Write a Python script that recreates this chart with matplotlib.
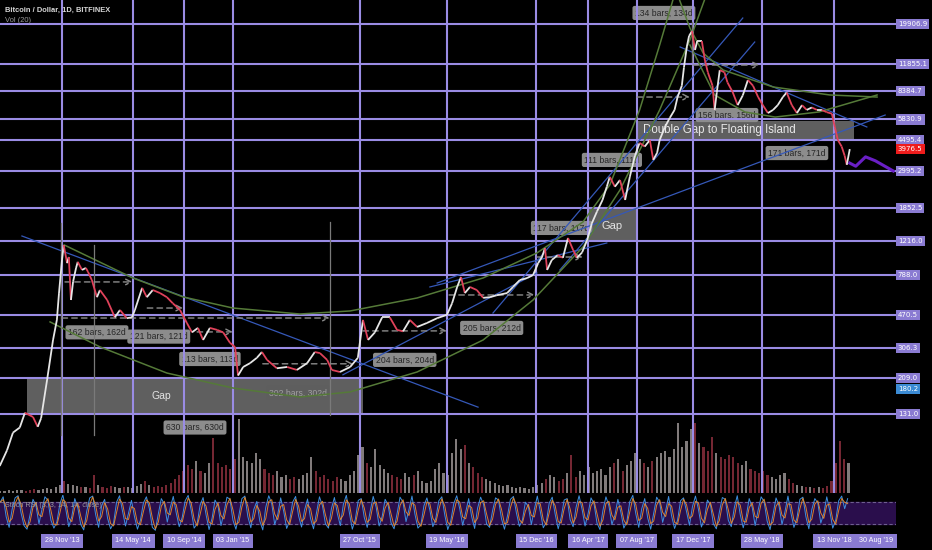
import matplotlib
matplotlib.use("Agg")
import matplotlib.pyplot as plt
import matplotlib.dates as mdates
import matplotlib.ticker as mticker
import matplotlib.transforms as mtransforms
from matplotlib.collections import LineCollection
from matplotlib.patches import Rectangle
import numpy as np
import pandas as pd

# ---- data ----
price_dates = [
    "2013-07-05", "2013-07-22", "2013-08-05", "2013-08-21", "2013-09-02", "2013-09-21",
    "2013-10-02", "2013-10-10", "2013-10-24", "2013-11-07", "2013-11-16", "2013-11-21",
    "2013-11-28", "2013-12-02", "2013-12-10", "2013-12-14", "2013-12-19", "2013-12-24",
    "2013-12-31", "2014-01-04", "2014-01-14", "2014-01-23", "2014-01-28", "2014-02-06",
    "2014-02-18", "2014-02-25", "2014-03-14", "2014-04-01", "2014-04-13", "2014-04-29",
    "2014-05-11", "2014-05-18", "2014-06-04", "2014-06-15", "2014-06-29", "2014-07-16",
    "2014-08-01", "2014-08-15", "2014-09-01", "2014-09-17", "2014-09-29", "2014-10-13",
    "2014-10-25", "2014-11-10", "2014-11-27", "2014-12-11", "2014-12-27", "2015-01-08",
    "2015-01-15", "2015-01-27", "2015-02-12", "2015-02-28", "2015-03-12", "2015-03-24",
    "2015-04-16", "2015-05-10", "2015-06-02", "2015-06-26", "2015-07-14", "2015-07-26",
    "2015-08-12", "2015-08-23", "2015-09-11", "2015-10-05", "2015-10-23", "2015-11-04",
    "2015-11-16", "2015-12-02", "2015-12-19", "2016-01-06", "2016-01-23", "2016-02-06",
    "2016-02-22", "2016-03-10", "2016-04-02", "2016-04-26", "2016-05-19", "2016-05-31",
    "2016-06-12", "2016-06-21", "2016-06-30", "2016-07-12", "2016-07-28", "2016-08-12",
    "2016-08-28", "2016-09-13", "2016-10-07", "2016-10-21", "2016-11-06", "2016-11-23",
    "2016-12-07", "2016-12-19", "2016-12-28", "2017-01-04", "2017-01-09", "2017-01-20",
    "2017-02-03", "2017-02-15", "2017-02-27", "2017-03-11", "2017-03-20", "2017-04-01",
    "2017-04-13", "2017-04-24", "2017-05-06", "2017-05-19", "2017-05-29", "2017-06-05",
    "2017-06-17", "2017-06-29", "2017-07-11", "2017-07-22", "2017-08-03", "2017-08-14",
    "2017-08-26", "2017-09-07", "2017-09-15", "2017-09-24", "2017-09-30", "2017-10-12",
    "2017-10-24", "2017-11-04", "2017-11-11", "2017-11-21", "2017-11-26", "2017-12-03",
    "2017-12-08", "2017-12-15", "2017-12-22", "2017-12-27", "2018-01-07", "2018-01-14",
    "2018-01-21", "2018-02-01", "2018-02-06", "2018-02-11", "2018-02-18", "2018-03-01",
    "2018-03-08", "2018-03-20", "2018-04-01", "2018-04-13", "2018-04-25", "2018-05-07",
    "2018-05-19", "2018-05-30", "2018-06-11", "2018-06-23", "2018-07-04", "2018-07-16",
    "2018-07-25", "2018-08-06", "2018-08-18", "2018-08-30", "2018-09-10", "2018-09-22",
    "2018-10-04", "2018-10-15", "2018-10-27", "2018-11-08", "2018-11-15", "2018-11-22",
    "2018-12-01", "2018-12-08", "2018-12-13", "2018-12-20",
]
price_close = [
    67, 82, 103, 110, 133, 126,
    111, 124, 203, 340, 440, 622,
    953, 1155, 915, 990, 569, 720,
    860, 930, 838, 860, 818, 736,
    590, 647, 569, 455, 500, 450,
    455, 500, 665, 590, 647, 622,
    590, 545, 500, 423, 375, 397,
    340, 397, 387, 375, 328, 310,
    215, 240, 252, 270, 291, 263,
    236, 240, 231, 252, 291, 287,
    263, 231, 225, 240, 270, 440,
    340, 375, 455, 455, 387, 380,
    440, 402, 423, 450, 470, 545,
    673, 765, 622, 673, 647, 585,
    590, 605, 622, 673, 736, 755,
    785, 915, 990, 1110, 838, 953,
    1015, 980, 1265, 1084, 980, 1050,
    1233, 1530, 1780, 2065, 2450, 2780,
    2450, 2670, 2065, 2780, 3650, 4310,
    4110, 4470, 3460, 3790, 4470, 5270,
    5960, 6590, 7780, 9000, 11400, 15000,
    17100, 18200, 14270, 16000, 16000, 12540,
    10700, 9000, 6590, 8250, 11020, 10700,
    9400, 8320, 7010, 7950, 9690, 9000,
    7780, 7010, 6330, 6590, 7010, 7780,
    8250, 7010, 6330, 7010, 6590, 6800,
    6590, 6590, 6400, 6280, 5270, 4470,
    4110, 3650, 3250, 3976.5,
]

proj_dates = ["2018-12-20", "2019-01-03", "2019-01-26", "2019-02-18", "2019-04-01"]
proj_prices = [3320, 3190, 3600, 3420, 3000]

# volume, one bar per 10 days from 2013-07-06 (thousand BTC, rough)
volume = [
    2, 2, 3, 2, 3, 3, 2, 3, 4, 3,
    4, 5, 4, 6, 8, 12, 9, 8, 7, 6,
    6, 5, 18, 8, 6, 5, 7, 6, 5, 6,
    6, 5, 7, 9, 12, 8, 6, 7, 6, 8,
    10, 14, 18, 22, 28, 24, 32, 22, 20, 30,
    55, 30, 26, 28, 24, 34, 74, 36, 32, 30,
    40, 34, 24, 20, 18, 22, 16, 18, 14, 16,
    14, 18, 20, 36, 22, 16, 18, 14, 12, 16,
    14, 12, 18, 22, 38, 46, 30, 26, 44, 28,
    24, 20, 18, 16, 14, 20, 16, 18, 22, 12,
    10, 12, 24, 30, 20, 18, 40, 54, 44, 48,
    30, 26, 20, 16, 14, 12, 10, 8, 7, 8,
    6, 5, 6, 5, 4, 6, 8, 10, 14, 18,
    16, 12, 14, 20, 38, 16, 22, 18, 26, 20,
    22, 24, 18, 26, 30, 34, 22, 28, 32, 40,
    34, 30, 26, 32, 36, 40, 42, 36, 44, 70,
    46, 52, 64, 70, 50, 46, 42, 56, 40, 36,
    34, 38, 36, 30, 28, 32, 24, 22, 20, 22,
    18, 16, 14, 18, 20, 14, 10, 8, 7, 6,
    6, 5, 6, 5, 7, 12, 30, 52, 34, 30,
]

# stoch RSI %K, weekly samples from 2013-07-06
stoch_k = [
    80, 95, 40, 10, 60, 92, 98, 50, 15, 5, 45, 88, 70, 20, 60,
    95, 85, 30, 8, 25, 75, 100, 60, 12, 40, 90, 65, 18, 3, 55,
    92, 97, 45, 10, 70, 88, 35, 6, 22, 80, 98, 55, 14, 50, 85,
    40, 5, 30, 78, 95, 62, 10, 2, 48, 90, 75, 25, 65, 96, 50,
    12, 38, 84, 99, 58, 8, 20, 72, 93, 45, 4, 35, 86, 70, 15,
    52, 94, 88, 30, 5, 44, 90, 97, 40, 9, 60, 82, 28, 3, 66,
    98, 76, 18, 45, 92, 55, 7, 28, 80, 96, 42, 11, 58, 89, 35,
    6, 50, 95, 70, 20, 8, 62, 93, 48, 15, 74, 99, 52, 5, 32,
    85, 90, 38, 10, 55, 96, 66, 14, 40, 88, 72, 22, 6, 48, 94,
    80, 26, 60, 97, 46, 8, 18, 70, 92, 58, 12, 36, 84, 95, 44,
    4, 28, 76, 98, 62, 16, 52, 90, 40, 7, 64, 94, 74, 20, 10,
    56, 92, 86, 34, 5, 42, 88, 96, 50, 13, 30, 80, 68, 18, 60,
    97, 54, 9, 24, 78, 94, 46, 6, 38, 86, 90, 32, 12, 66, 98,
    60, 14, 48, 92, 76, 22, 4, 58, 95, 70, 18, 44, 88, 52, 8,
    26, 82, 99, 48, 10, 62, 90, 36, 5, 50, 94, 80, 24, 56, 96,
    42, 7, 30, 84, 92, 54, 16, 68, 97, 60, 11, 34, 86, 74, 20,
    6, 52, 93, 88, 30, 12, 64, 98, 46, 9, 40, 90, 66, 15, 58,
    95, 82, 28, 4, 46, 92, 70, 18, 54, 97, 50, 10, 36, 88, 94,
    40, 6, 60, 90, 78, 22, 48, 95, 56, 8, 30, 84, 97, 62, 90,
]

price_ticks = [131.0, 209.0, 306.3, 470.5, 788.0, 1216.0, 1852.5, 2995.2,
               4495.4, 5830.9, 8384.7, 11855.1, 19906.9]
date_ticks = ["2013-11-28", "2014-05-14", "2014-09-10", "2015-01-03", "2015-10-27",
              "2016-05-19", "2016-12-15", "2017-04-16", "2017-08-07", "2017-12-17",
              "2018-05-28", "2018-11-13"]
date_labels = ["28 Nov '13", "14 May '14", "10 Sep '14", "03 Jan '15", "27 Oct '15",
               "19 May '16", "15 Dec '16", "16 Apr '17", "07 Aug '17", "17 Dec '17",
               "28 May '18", "13 Nov '18"]

# drawings: (start date, start price, end date, end price)
blue_lines = [
    ("2013-08-26", 1298, "2016-07-31", 143),
    ("2015-09-18", 217, "2016-12-16", 806),
    ("2016-04-09", 673, "2017-05-29", 1186),
    ("2016-09-04", 481, "2018-04-13", 21540),
    ("2017-02-08", 838, "2018-05-11", 15810),
    ("2016-04-26", 708, "2019-03-13", 6170),
    ("2017-11-17", 14830, "2019-01-29", 5290),
]
green_arcs = [
    (["2013-12-03", "2014-05-13", "2014-09-08", "2015-01-03", "2015-06-09", "2015-10-05",
      "2016-03-10", "2016-08-12", "2016-12-16", "2017-04-03", "2017-06-05", "2017-08-14",
      "2017-09-30", "2017-11-07"],
     [1157, 756, 592, 513, 475, 494, 584, 756, 1043, 1555, 2505, 6590, 15210, 30900]),
    (["2013-10-31", "2014-02-25", "2014-08-01", "2015-01-03", "2015-06-09", "2015-10-05",
      "2016-03-10", "2016-08-12", "2016-12-07", "2017-04-03", "2017-06-29", "2017-09-30",
      "2017-12-10", "2018-01-26"],
     [429, 311, 222, 183, 163, 174, 225, 340, 569, 1127, 2349, 6590, 16230, 32960]),
    (["2017-11-07", "2017-12-10", "2018-01-10", "2018-02-26", "2018-06-23", "2018-11-03",
      "2019-02-22"],
     [30900, 18930, 13720, 11020, 8860, 7990, 7780]),
    (["2017-12-10", "2018-02-06", "2018-04-18", "2018-06-28", "2018-10-09", "2019-02-22"],
     [15210, 7990, 6420, 6010, 6420, 7990]),
]
gray_verticals = [
    ("2013-11-26", 1535, 100),
    ("2014-02-11", 1157, 100),
    ("2015-08-18", 1555, 129),
    ("2017-12-15", 20460, 12220),
]
range_arrows = [
    ("2013-12-05", "2014-05-13", 718),
    ("2014-06-16", "2014-09-08", 513),
    ("2013-11-28", "2015-08-18", 451),
    ("2014-10-11", "2015-01-03", 377),
    ("2015-03-14", "2015-10-12", 250),
    ("2015-11-04", "2016-05-19", 382),
    ("2016-05-24", "2016-12-11", 607),
    ("2016-12-16", "2017-04-03", 990),
    ("2017-08-08", "2017-12-10", 7780),
    ("2017-12-17", "2018-05-23", 11750),
]
gap_boxes = [
    ("2013-09-07", "2015-11-04", 133, 209),
    ("2017-04-13", "2017-08-05", 1216, 1852.5),
    ("2017-08-08", "2018-12-30", 4495, 5714),
]
bar_labels = ["162 bars, 162d", "121 bars, 121d", "113 bars, 113d", "302 bars, 302d",
              "630 bars, 630d", "204 bars, 204d", "205 bars, 212d", "117 bars, 117d",
              "111 bars, 111d", "134 bars, 134d", "156 bars, 156d", "171 bars, 171d"]
bar_label_dates = ["2014-02-18", "2014-07-13", "2014-11-10", "2015-06-04", "2014-10-06",
                   "2016-02-10", "2016-09-01", "2017-02-12", "2017-06-10", "2017-10-10",
                   "2018-03-07", "2018-08-18"]
bar_label_prices = [375, 355, 266, 172, 110, 263, 397, 1440, 3460, 22990, 6170, 3780]

# ---- style ----
LAV = "#9a8ce4"
LAV_BOX = "#8a7bd2"
UP = "#e6e6e6"
DOWN = "#e0425a"
VOL_UP = "#b9b1b1"
VOL_DOWN = "#a8384a"
W, H = 932, 550

fig = plt.figure(figsize=(W / 100, H / 100), dpi=100)
fig.patch.set_facecolor("black")

x_left = mdates.date2num(pd.Timestamp("2013-07-05 14:00"))
x_right = mdates.date2num(pd.Timestamp("2019-04-07 10:00"))
ax_w = 896 / W

ax_vol = fig.add_axes([0, 1 - 493 / H, ax_w, 85 / H])
ax = fig.add_axes([0, 1 - 493 / H, ax_w, 493 / H])
ax_st = fig.add_axes([0, 1 - 531 / H, ax_w, 36 / H])
for a in (ax_vol, ax, ax_st):
    a.set_facecolor("none")
    a.set_xlim(x_left, x_right)
    for s in a.spines.values():
        s.set_visible(False)
    a.tick_params(which="both", length=0, labelleft=False, labelbottom=False)
ax_vol.set_xticks([])
ax_vol.set_yticks([])
ax_st.set_xticks([])
ax_st.set_yticks([])

# ---- price pane ----
ax.set_yscale("log")
ax.set_ylim(47.3, 27170)
ax.set_yticks(price_ticks)
ax.yaxis.set_minor_locator(mticker.NullLocator())
ax.set_xticks(mdates.date2num(pd.to_datetime(date_ticks)))
ax.grid(True, color=LAV, lw=1.5)
ax.set_axisbelow(False)

px = mdates.date2num(pd.to_datetime(price_dates))
pc = np.array(price_close, dtype=float)
segs = [[(px[i - 1], pc[i - 1]), (px[i], pc[i])] for i in range(1, len(pc))]
cols = [UP if pc[i] >= pc[i - 1] else DOWN for i in range(1, len(pc))]
ax.add_collection(LineCollection(segs, colors=cols, linewidths=1.3, zorder=5))

ax.plot(pd.to_datetime(proj_dates), proj_prices, color="#6a1fc6", lw=2.2, zorder=5)

for d0, p0, d1, p1 in blue_lines:
    ax.plot(pd.to_datetime([d0, d1]), [p0, p1], color="#3558b8", lw=0.9, zorder=3)
for ds, ps in green_arcs:
    ax.plot(pd.to_datetime(ds), ps, color="#557a38", lw=1.1, zorder=3)
for d, p0, p1 in gray_verticals:
    ax.plot(pd.to_datetime([d, d]), [p0, p1], color="#7a7a7a", lw=0.9, zorder=3)
for d0, d1, p in range_arrows:
    ax.annotate("", xy=(mdates.date2num(pd.Timestamp(d1)), p),
                xytext=(mdates.date2num(pd.Timestamp(d0)), p),
                arrowprops=dict(arrowstyle="->", color="#8c8c8c", lw=1.0,
                                linestyle=(0, (4, 3)), shrinkA=0, shrinkB=0),
                zorder=3)

for d0, d1, p0, p1 in gap_boxes:
    x0 = mdates.date2num(pd.Timestamp(d0))
    x1 = mdates.date2num(pd.Timestamp(d1))
    ax.add_patch(Rectangle((x0, p0), x1 - x0, p1 - p0, facecolor="#6a6a6a",
                           edgecolor="none", alpha=0.9, zorder=2))

for txt, d, p in zip(bar_labels, bar_label_dates, bar_label_prices):
    dim = txt.startswith("302")
    ax.text(pd.Timestamp(d), p, txt, ha="center", va="center", fontsize=6.2,
            family="Liberation Sans", color="#a0a0a0" if dim else "#262626", zorder=2.2,
            bbox=dict(boxstyle="round,pad=0.3,rounding_size=0.25",
                      fc="#5e5e5e" if dim else "#8c8c8c", ec="none"))

ax.text(pd.Timestamp("2014-07-20"), 165, "Gap", ha="center", va="center", fontsize=7.5,
        family="Liberation Sans", color="#e4e4e4", zorder=2.2)
ax.text(pd.Timestamp("2017-06-10"), 1480, "Gap", ha="center", va="center", fontsize=8,
        family="Liberation Sans", color="#e4e4e4", zorder=2.2)
ax.text(pd.Timestamp("2017-08-22"), 5090, "Double Gap to Floating Island", ha="left",
        va="center", fontsize=8.3, family="Liberation Sans", color="#e8e8e8", zorder=2.2)

# right price scale
ytr = ax.get_yaxis_transform()
for p in price_ticks:
    ax.text(1.002, p, f"{p:.1f}", transform=ytr, ha="left", va="center", fontsize=5,
            color="white", clip_on=False,
            bbox=dict(boxstyle="square,pad=0.3", fc=LAV_BOX, ec="none"))
ax.text(1.002, 3976.5, "3976.5", transform=ytr, ha="left", va="center", fontsize=5,
        color="white", clip_on=False, bbox=dict(boxstyle="square,pad=0.3", fc="#ee1c1c", ec="none"))
ax.text(1.002, 180.2, "180.2", transform=ytr, ha="left", va="center", fontsize=5,
        color="white", clip_on=False, bbox=dict(boxstyle="square,pad=0.3", fc="#3b8bd4", ec="none"))

# ---- volume ----
vd = pd.date_range("2013-07-06", periods=len(volume), freq="10D")
vnum = mdates.date2num(vd)
idx = np.clip(np.searchsorted(px, vnum), 1, len(pc) - 1)
vcols = [VOL_UP if pc[i] >= pc[i - 1] else VOL_DOWN for i in idx]
ax_vol.bar(vd, volume, width=5, color=vcols, alpha=0.7, linewidth=0)
ax_vol.set_ylim(0, 85)
ax_vol.set_xlim(x_left, x_right)

# ---- stoch RSI ----
kd = pd.date_range("2013-07-06", periods=len(stoch_k), freq="7D")
k = pd.Series(stoch_k, dtype=float)
d_line = k.rolling(2, min_periods=1).mean()
ax_st.set_ylim(0, 100)
ax_st.axhspan(20, 80, xmin=0, xmax=1, color="#2a0e4c", zorder=0)
for lvl in (20, 80):
    ax_st.axhline(lvl, color="#6e5e90", lw=0.8, ls=(0, (3, 2)), zorder=1)
ax_st.plot(kd, k, color="#3d8fe0", lw=0.7, zorder=2)
ax_st.plot(kd, d_line, color="#f08c28", lw=0.7, alpha=0.9, zorder=2)
ax_st.text(0.006, 0.72, "Stoch RSI (3, 3, 14, 14, close)", transform=ax_st.transAxes,
           fontsize=5.2, family="Liberation Sans", color="#9a9a9a", va="center")

# ---- time scale labels ----
btr = mtransforms.blended_transform_factory(ax_st.transData, fig.transFigure)
for d, lab in zip(date_ticks, date_labels):
    fig.text(mdates.date2num(pd.Timestamp(d)), 1 - 541 / H, lab, transform=btr,
             ha="center", va="center", fontsize=5.2, color="white", family="Liberation Sans",
             bbox=dict(boxstyle="square,pad=0.5", fc=LAV_BOX, ec="none"))
fig.text(876 / W, 1 - 541 / H, "30 Aug '19", ha="center", va="center", fontsize=5.2,
         color="white", family="Liberation Sans",
         bbox=dict(boxstyle="square,pad=0.5", fc=LAV_BOX, ec="none"))

fig.text(5 / W, 1 - 10 / H, "Bitcoin / Dollar, 1D, BITFINEX", fontsize=5.4, weight="bold",
         color="#d8d8d8", family="Liberation Sans", va="center")
fig.text(5 / W, 1 - 21 / H, "Vol (20)", fontsize=5.4, color="#9a9a9a",
         family="Liberation Sans", va="center")

fig.savefig("out.png", dpi=100, facecolor="black")
